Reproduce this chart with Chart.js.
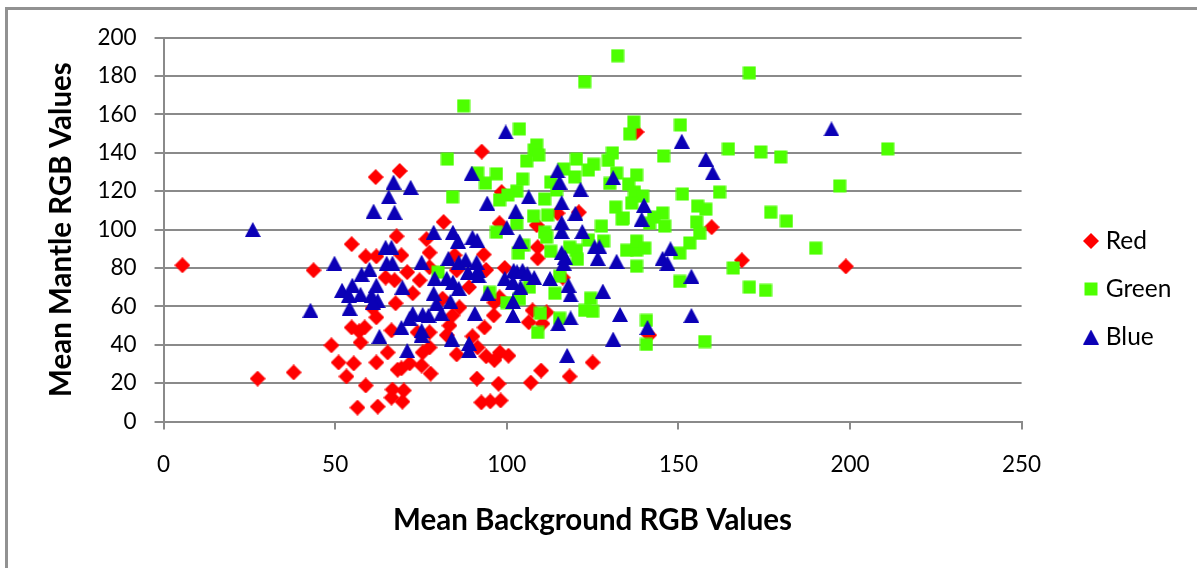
<!DOCTYPE html>
<html><head><meta charset="utf-8">
<style>
html,body{margin:0;padding:0;background:#fff;overflow:hidden}
#frame{position:absolute;left:5px;top:7px;width:1300px;height:700px;border:3px solid #929292;box-sizing:border-box}
#wrap{position:absolute;left:0;top:0;width:1197px;height:568px}
</style>
<script src="https://cdn.jsdelivr.net/npm/chart.js@4"></script>
</head><body>
<div id="frame"></div>
<div id="wrap"><canvas id="c" width="1197" height="568"></canvas></div>
<script>
const seriesNames = ["Red","Green","Blue"];
const xTicks = [0,50,100,150,200,250];
const yTicks = [0,20,40,60,80,100,120,140,160,180,200];
const xTitle = "Mean Background RGB Values";
const yTitle = "Mean Mantle RGB Values";
const redPoints = [[5.5,81.4],[27.4,22.4],[37.9,25.6],[43.7,78.8],[48.9,39.7],[51,30.8],[53.3,23.5],[55.4,30.3],[56.5,7.3],[58.9,18.8],[62.4,7.8],[62,30.8],[57.4,41.2],[54.8,49],[58.6,49],[57,47],[54.8,92.4],[58.9,86],[62,86],[61.8,127.3],[67.9,96.5],[64.7,75],[67.3,73.6],[67.6,61.6],[60.9,59],[62,54.3],[66.4,47.5],[65.3,36],[68.2,27],[66.7,16.7],[66.4,12.5],[68.8,130.5],[69.3,86.6],[69.3,27.7],[70,16.2],[69.6,10.4],[71,77.8],[71.7,30.3],[72.6,66.8],[74,46.5],[74.6,73.6],[75.2,29.2],[75.5,36],[76.6,95],[77.5,88],[77.5,80.4],[77.5,46.5],[77.5,38.6],[77.8,25],[81.3,64],[81.6,103.9],[82.5,45],[83.3,50],[84.2,55.3],[84.8,86.6],[85.4,35],[85.4,78.8],[86.2,59.5],[89,70],[90,44.4],[91.3,22.4],[91.5,38.6],[92.6,10],[92.7,140.6],[93.3,87],[93.5,49],[94,34],[94,79],[95.2,10.5],[96.2,55.3],[96.4,32],[96.4,62],[97.6,19.7],[97.9,64.7],[97.9,103.3],[98,36],[98.2,11],[98.5,119.5],[99.4,80],[100.5,34.3],[107,20.3],[106.4,51.7],[107.5,57.9],[108.7,102.3],[109,90.8],[109,85],[110,26.6],[110.4,51],[111.6,56.9],[114.8,108.5],[116.3,75],[118.3,23.5],[121,109],[125,30.8],[137.8,150.8],[141.5,45],[159.7,101.2],[168.5,84],[198.8,80.8]];
const greenPoints = [[132.3,190.5],[122.7,177],[170.7,181.6],[87.4,164.4],[103.7,152.4],[137,156],[135.8,149.8],[150.6,154.5],[164.6,142],[174,140.4],[179.8,137.8],[211,142],[197,122.7],[82.7,136.7],[108.7,144],[108,141.4],[109.3,138.8],[105.8,135.7],[120.3,136.7],[130.8,139.9],[129.6,136],[125.3,134],[123.8,131],[145.7,138.3],[91.5,129.4],[97,129],[93.8,124.2],[116.6,131.5],[112.8,124.7],[119.8,127.4],[104.6,126.3],[132,129.4],[137.8,128.4],[130,124],[135.5,123.7],[137.2,119.5],[139.6,117.4],[84.2,117],[151.2,118.5],[162,119.5],[102.9,120],[100.3,118],[97.9,115.4],[114.5,120.6],[111,115.9],[136.4,113.8],[131.7,111.7],[155.6,112.2],[158,110.6],[176.9,109],[181.5,104.4],[107.8,107],[111.9,107.5],[133.7,105.4],[145.4,108.6],[142.8,106.5],[155.3,103.9],[146,101.8],[127.6,101.8],[111,98.6],[97,98.6],[102.9,103.3],[141.6,103.3],[103.4,87.7],[80,77.8],[95,67.3],[100,62],[103.7,64],[106.6,70],[115.4,75.7],[114,66.8],[124.4,64.2],[122.7,57.9],[125,57.4],[109.8,56.4],[109,46.4],[115.4,53.8],[140.7,52.7],[140.7,40.2],[112.8,88.7],[120.3,89.2],[120.6,84.5],[118.3,90.8],[128.2,94],[123.8,94.5],[134,106],[137.8,80.9],[134.9,89.2],[137.8,89.2],[137.8,94],[140.2,90.3],[111.6,96],[104.9,91.8],[166,80],[170.7,70],[175.4,68.3],[190,90.3],[157.7,41.7],[150.4,73],[153.3,93],[156.2,98],[150.4,87.7]];
const bluePoints = [[72,122],[89.8,129.4],[94.3,113.8],[106.4,117],[102.6,109.6],[100,101],[103.8,94],[114.8,130.5],[115.4,124.7],[121.5,121],[116,114],[120,108.5],[116,103.7],[116,99],[122,99],[131,127],[140,112.7],[139.3,105.4],[125.6,91],[127,91],[126.5,85],[132,83.5],[116,88],[117,85.6],[116.6,82.5],[112.6,74.5],[118,71],[118.6,66],[128,68],[133,55.8],[118.6,54],[115,51],[131,43],[117.6,34.5],[141,49],[102,78.8],[103,78],[104.6,78.8],[106,77],[108,75],[99.4,74.6],[101.8,72.6],[104,70],[101.8,62.6],[101.8,55.3],[94.4,66.8],[90.7,56.4],[89,40.7],[89,37],[84,43],[71,37],[78.7,98.6],[84.3,98.6],[85.8,94],[90,96],[91.4,94.4],[83,85],[86,83],[88,84.3],[91.2,83],[88.7,77.8],[91.6,78.8],[91.8,76],[75.2,83],[79,74.6],[82.5,74.6],[84.3,72.6],[86,69.4],[69.6,70],[78.7,66.8],[79.5,61.6],[83.6,62.6],[81,56.4],[77.2,55.3],[72.6,56.4],[75.5,55.8],[71.7,53.8],[69.3,49],[75.2,47.5],[75.2,45],[26,100],[49.8,82.5],[42.8,58],[54.2,59],[62.9,44.4],[52,68.4],[55,71],[54,65.8],[57.4,66.3],[57.7,76.7],[60,79.3],[62,71],[60.6,65.8],[62.4,63],[61,62],[64.7,90.8],[66.4,90.8],[65,82.5],[66.7,82.5],[61.2,109.6],[65.6,117],[67.3,109],[67,124.7],[99.7,150.8],[151,146],[158,136.7],[160,129.5],[194.6,152.4],[145.4,85],[146.8,82.5],[147.7,90],[153.8,75.7],[153.8,55.3]];

const toXY = p => p.map(([x,y]) => ({x,y}));
function marker(w,h,color,path){
  const c = document.createElement('canvas');
  c.width = w; c.height = h;
  const g = c.getContext('2d');
  g.fillStyle = color;
  g.beginPath(); path.forEach(([a,b],i)=> i? g.lineTo(a,b): g.moveTo(a,b)); g.closePath(); g.fill();
  return c;
}
const diamond = marker(16,16,'#ff0000',[[8,0],[16,8],[8,16],[0,8]]);
const square = marker(14,14,'#4dff00',[[0.5,0.5],[13.5,0.5],[13.5,13.5],[0.5,13.5]]);
const triangle = marker(16,15,'#0b00b6',[[8,0],[16,15],[0,15]]);

const gridColor = '#8a8a8a';
const font = 'Lato, Carlito, sans-serif';
const placeLegend = {
  id:'placeLegend',
  afterLayout(chart){
    const l = chart.legend, h = l.height;
    l.left = 1065; l.right = 1197;
    l.top = 289 - h/2; l.bottom = 289 + h/2;
  }
};
new Chart(document.getElementById('c'), {
  type:'scatter',
  data:{datasets:[
    {label:seriesNames[0],data:toXY(redPoints),order:3,pointStyle:diamond,backgroundColor:'#ff0000',borderColor:'#ff0000'},
    {label:seriesNames[1],data:toXY(greenPoints),order:2,pointStyle:square,backgroundColor:'#4dff00',borderColor:'#4dff00'},
    {label:seriesNames[2],data:toXY(bluePoints),order:1,pointStyle:triangle,backgroundColor:'#0b00b6',borderColor:'#0b00b6'}
  ]},
  options:{
    responsive:false,animation:false,devicePixelRatio:1,
    layout:{padding:{top:37.5,left:44,right:59,bottom:30}},
    plugins:{
      title:{display:false},tooltip:{enabled:false},
      legend:{display:true,position:'right',labels:{usePointStyle:true,boxWidth:5,boxHeight:15,padding:23.5,color:'#000',sort:(a,b)=>a.datasetIndex-b.datasetIndex,font:{family:font,size:24.5}}}
    },
    scales:{
      x:{type:'linear',min:0,max:250,
        afterBuildTicks(a){a.ticks=xTicks.map(value=>({value}));},
        grid:{drawOnChartArea:false,drawTicks:true,tickLength:8,color:gridColor,lineWidth:2},
        border:{display:true,color:gridColor,width:2},
        ticks:{color:'#000',padding:22,maxRotation:0,font:{family:font,size:22.5}},
        title:{display:true,text:xTitle,color:'#000',padding:{top:2,bottom:0},font:{family:font,size:29.5,weight:'bold'}}},
      y:{type:'linear',min:0,max:200,
        afterBuildTicks(a){a.ticks=yTicks.map(value=>({value}));},
        grid:{drawOnChartArea:true,drawTicks:true,tickLength:9,color:gridColor,lineWidth:2},
        border:{display:true,color:gridColor,width:2},
        ticks:{color:'#000',padding:18,font:{family:font,size:22.5}},
        title:{display:true,text:yTitle,color:'#000',padding:{top:0,bottom:0},font:{family:font,size:29.5,weight:'bold'}}}
    }
  },
  plugins:[placeLegend]
});
</script>
</body></html>
